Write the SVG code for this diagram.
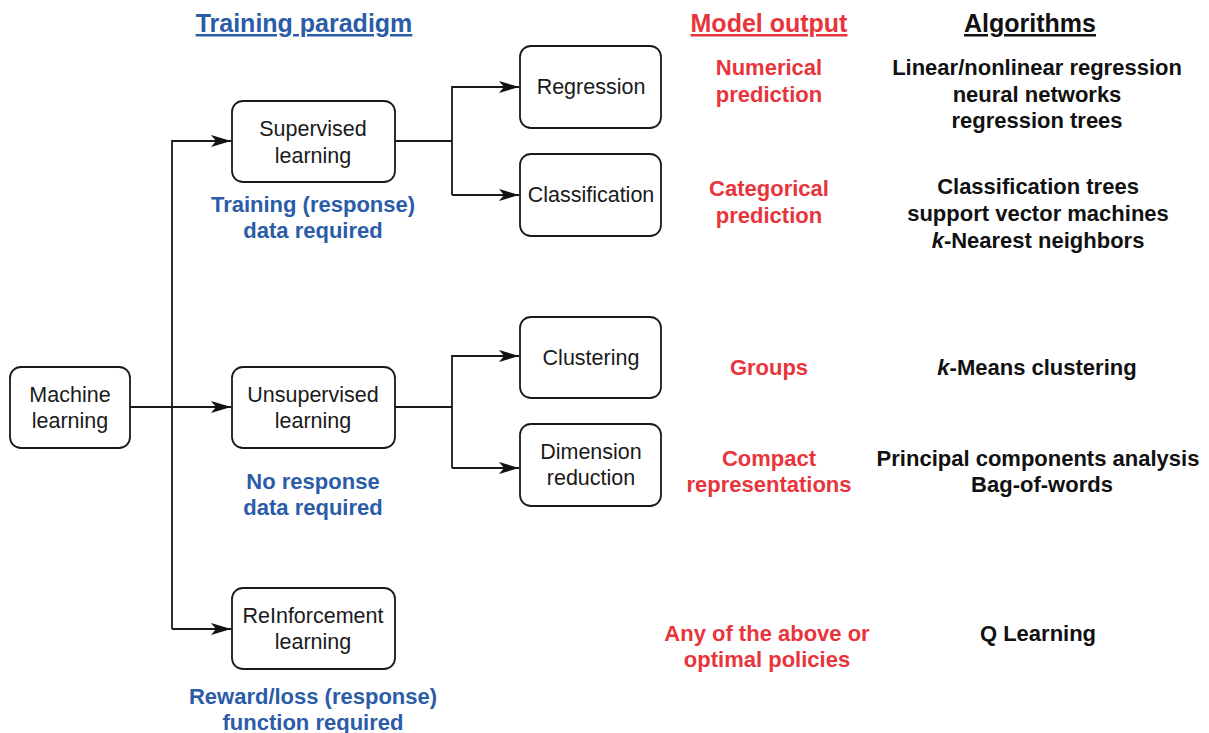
<svg xmlns="http://www.w3.org/2000/svg" width="1209" height="733" viewBox="0 0 1209 733">
<style>
.box{fill:#fff;stroke:#1a1a1a;stroke-width:1.8}
.bt{font-family:"Liberation Sans",Arial,sans-serif;font-size:21.5px;fill:#1a1a1a;text-anchor:middle}
.hd{font-family:"Liberation Sans",Arial,sans-serif;font-size:25px;font-weight:bold;text-anchor:middle;text-decoration:underline}
.blue{font-family:"Liberation Sans",Arial,sans-serif;font-size:22px;font-weight:bold;fill:#2a5ca8;text-anchor:middle}
.red{font-family:"Liberation Sans",Arial,sans-serif;font-size:22px;font-weight:bold;fill:#e8343b;text-anchor:middle}
.alg{font-family:"Liberation Sans",Arial,sans-serif;font-size:22px;font-weight:bold;fill:#111;text-anchor:middle}
.ln{fill:none;stroke:#1a1a1a;stroke-width:1.8}
</style>
<defs>
<marker id="ah" viewBox="0 0 20 12" refX="20" refY="6" markerWidth="20" markerHeight="12" markerUnits="userSpaceOnUse" orient="auto">
<path d="M0,0 L20,6 L0,12 L5,6 Z" fill="#111"/>
</marker>
</defs>
<rect width="1209" height="733" fill="#fff"/>

<text class="hd" x="304" y="32" fill="#2a5ca8">Training paradigm</text>
<text class="hd" x="769" y="32" fill="#e8343b">Model output</text>
<text class="hd" x="1030" y="32" fill="#111">Algorithms</text>

<g id="connectors">
<path class="ln" d="M130,407 H231" marker-end="url(#ah)"/>
<path class="ln" d="M172,629 V141 H231" marker-end="url(#ah)"/>
<path class="ln" d="M172,629 H231" marker-end="url(#ah)"/>
<path class="ln" d="M395,141 H452"/>
<path class="ln" d="M452,195 V87 H519" marker-end="url(#ah)"/>
<path class="ln" d="M452,195 H519" marker-end="url(#ah)"/>
<path class="ln" d="M395,407 H452"/>
<path class="ln" d="M452,468 V356 H519" marker-end="url(#ah)"/>
<path class="ln" d="M452,468 H519" marker-end="url(#ah)"/>
</g>

<g id="machine-learning">
<rect class="box" x="10" y="367" width="120" height="81" rx="11"/>
<text class="bt" x="70" y="402">Machine</text>
<text class="bt" x="70" y="428">learning</text>
</g>
<g id="supervised">
<rect class="box" x="232" y="101" width="163" height="81" rx="11"/>
<text class="bt" x="313" y="136">Supervised</text>
<text class="bt" x="313" y="163">learning</text>
</g>
<g id="unsupervised">
<rect class="box" x="232" y="367" width="163" height="81" rx="11"/>
<text class="bt" x="313" y="402">Unsupervised</text>
<text class="bt" x="313" y="428">learning</text>
</g>
<g id="reinforcement">
<rect class="box" x="232" y="588" width="163" height="81" rx="11"/>
<text class="bt" x="313" y="623">ReInforcement</text>
<text class="bt" x="313" y="649">learning</text>
</g>
<g id="regression">
<rect class="box" x="520" y="46" width="141" height="82" rx="11"/>
<text class="bt" x="591" y="94">Regression</text>
</g>
<g id="classification">
<rect class="box" x="520" y="154" width="141" height="82" rx="11"/>
<text class="bt" x="591" y="202">Classification</text>
</g>
<g id="clustering">
<rect class="box" x="520" y="317" width="141" height="81" rx="11"/>
<text class="bt" x="591" y="365">Clustering</text>
</g>
<g id="dimension-reduction">
<rect class="box" x="520" y="424" width="141" height="82" rx="11"/>
<text class="bt" x="591" y="459">Dimension</text>
<text class="bt" x="591" y="485">reduction</text>
</g>

<g id="paradigm-notes">
<text class="blue" x="313" y="212">Training (response)</text>
<text class="blue" x="313" y="238">data required</text>
<text class="blue" x="313" y="489">No response</text>
<text class="blue" x="313" y="515">data required</text>
<text class="blue" x="313" y="704">Reward/loss (response)</text>
<text class="blue" x="313" y="730">function required</text>
</g>

<g id="model-output">
<text class="red" x="769" y="75">Numerical</text>
<text class="red" x="769" y="102">prediction</text>
<text class="red" x="769" y="196">Categorical</text>
<text class="red" x="769" y="223">prediction</text>
<text class="red" x="769" y="375">Groups</text>
<text class="red" x="769" y="466">Compact</text>
<text class="red" x="769" y="492">representations</text>
<text class="red" x="767" y="641">Any of the above or</text>
<text class="red" x="767" y="667">optimal policies</text>
</g>

<g id="algorithms">
<text class="alg" x="1037" y="75">Linear/nonlinear regression</text>
<text class="alg" x="1037" y="102">neural networks</text>
<text class="alg" x="1037" y="128">regression trees</text>
<text class="alg" x="1038" y="194">Classification trees</text>
<text class="alg" x="1038" y="221">support vector machines</text>
<text class="alg" x="1038" y="248"><tspan font-style="italic">k</tspan>-Nearest neighbors</text>
<text class="alg" x="1037" y="375"><tspan font-style="italic">k</tspan>-Means clustering</text>
<text class="alg" x="1038" y="466">Principal components analysis</text>
<text class="alg" x="1042" y="492">Bag-of-words</text>
<text class="alg" x="1038" y="641">Q Learning</text>
</g>
</svg>
